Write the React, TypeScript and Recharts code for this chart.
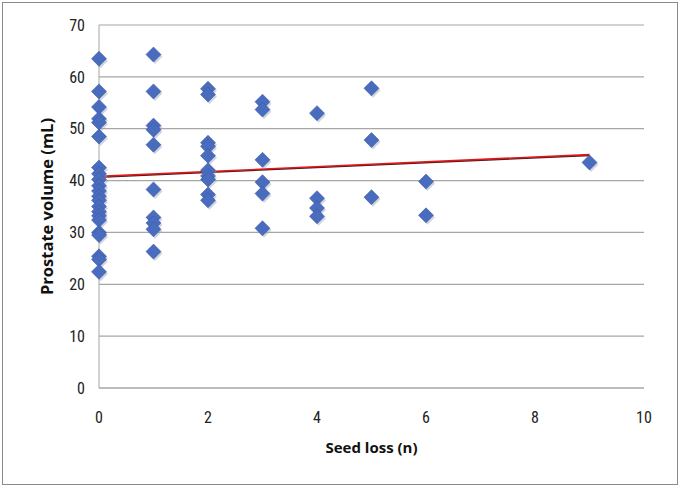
import { ScatterChart, Scatter, XAxis, YAxis, CartesianGrid, ReferenceLine } from "recharts";

/* ---------- data ---------- */

const seedLoss0 = [63.5, 57.2, 54.2, 51.9, 51.2, 48.5, 42.5, 41.3, 40.2, 39.0, 38.0, 37.0, 36.2, 35.0, 34.0, 33.2, 32.4, 30.0, 29.5, 25.4, 24.8, 22.4];
const seedLoss1 = [64.3, 57.2, 50.6, 49.8, 46.9, 38.3, 32.9, 31.8, 30.6, 26.3];
const seedLoss2 = [57.7, 56.6, 47.3, 46.6, 44.8, 42.0, 40.9, 40.2, 37.3, 36.2];
const seedLoss3 = [55.2, 53.7, 44.0, 39.7, 37.5, 30.8];
const seedLoss4 = [53.0, 36.6, 34.7, 33.1];
const seedLoss5 = [57.8, 47.8, 36.8];
const seedLoss6 = [39.8, 33.3];
const seedLoss9 = [43.5];

const columns: [number, number[]][] = [
  [0, seedLoss0],
  [1, seedLoss1],
  [2, seedLoss2],
  [3, seedLoss3],
  [4, seedLoss4],
  [5, seedLoss5],
  [6, seedLoss6],
  [9, seedLoss9],
];

const trendX = [0, 9];
const trendY = [40.8, 45.0];

const xTicks = [0, 2, 4, 6, 8, 10];
const yTicks = [0, 10, 20, 30, 40, 50, 60, 70];

const points = columns.flatMap(([x, ys]) => ys.map((y) => ({ x, y })));

const TICK_FONT = "'Roboto Condensed', 'Liberation Sans Narrow', 'Roboto', sans-serif";
const TITLE_FONT = "'Open Sans', 'Noto Sans', sans-serif";

function Diamond(props: { cx?: number; cy?: number }) {
  const { cx = 0, cy = 0 } = props;
  const r = 7.5;
  const d = `M${cx},${cy - r} L${cx + r},${cy} L${cx},${cy + r} L${cx - r},${cy} Z`;
  return (
    <g>
      <path d={d} transform="translate(1.5,2)" fill="#9aa3b5" opacity={0.45} />
      <path d={d} fill="#4a6cbf" stroke="#3b5aa6" strokeWidth={0.6} />
    </g>
  );
}

export default function App() {
  return (
    <div style={{ position: "absolute", left: 0, top: 0, width: 680, height: 487, background: "#fff" }}>
      <div
        style={{
          position: "absolute",
          left: 2,
          top: 2,
          width: 674,
          height: 481,
          border: "1px solid #8a8a8a",
        }}
      />
      <ScatterChart
        width={680}
        height={487}
        margin={{ top: 25, right: 36, bottom: 39, left: 39 }}
        style={{ position: "absolute", left: 0, top: 0 }}
      >
        <CartesianGrid horizontal vertical={false} stroke="#a6a6a6" strokeWidth={1.2} />
        <XAxis
          type="number"
          dataKey="x"
          domain={[0, 10]}
          ticks={xTicks}
          height={60}
          tickLine={false}
          axisLine={{ stroke: "#a6a6a6" }}
          tick={{ fontSize: 16, fill: "#222", fontFamily: TICK_FONT }}
          tickMargin={18}
          label={{
            value: "Seed loss (n)",
            position: "insideBottom",
            offset: -5,
            style: { fontSize: 15, fontWeight: 700, fill: "#111", fontFamily: TITLE_FONT },
          }}
        />
        <YAxis
          type="number"
          dataKey="y"
          domain={[0, 70]}
          ticks={yTicks}
          width={60}
          tickLine={false}
          axisLine={{ stroke: "#a6a6a6" }}
          tick={{ fontSize: 16, fill: "#222", fontFamily: TICK_FONT }}
          tickMargin={8}
          label={{
            value: "Prostate volume (mL)",
            angle: -90,
            position: "insideLeft",
            offset: 0,
            dx: 8,
            style: { fontSize: 16.5, fontWeight: 700, fill: "#111", fontFamily: TITLE_FONT, textAnchor: "middle" },
          }}
        />
        <Scatter data={points} shape={<Diamond />} isAnimationActive={false} />
        <ReferenceLine
          segment={[
            { x: trendX[0], y: trendY[0] - 0.15 },
            { x: trendX[1], y: trendY[1] - 0.15 },
          ]}
          stroke="#3a1a1a"
          strokeWidth={1.5}
        />
        <ReferenceLine
          segment={[
            { x: trendX[0], y: trendY[0] },
            { x: trendX[1], y: trendY[1] },
          ]}
          stroke="#e0161b"
          strokeWidth={1.6}
        />
      </ScatterChart>
    </div>
  );
}
